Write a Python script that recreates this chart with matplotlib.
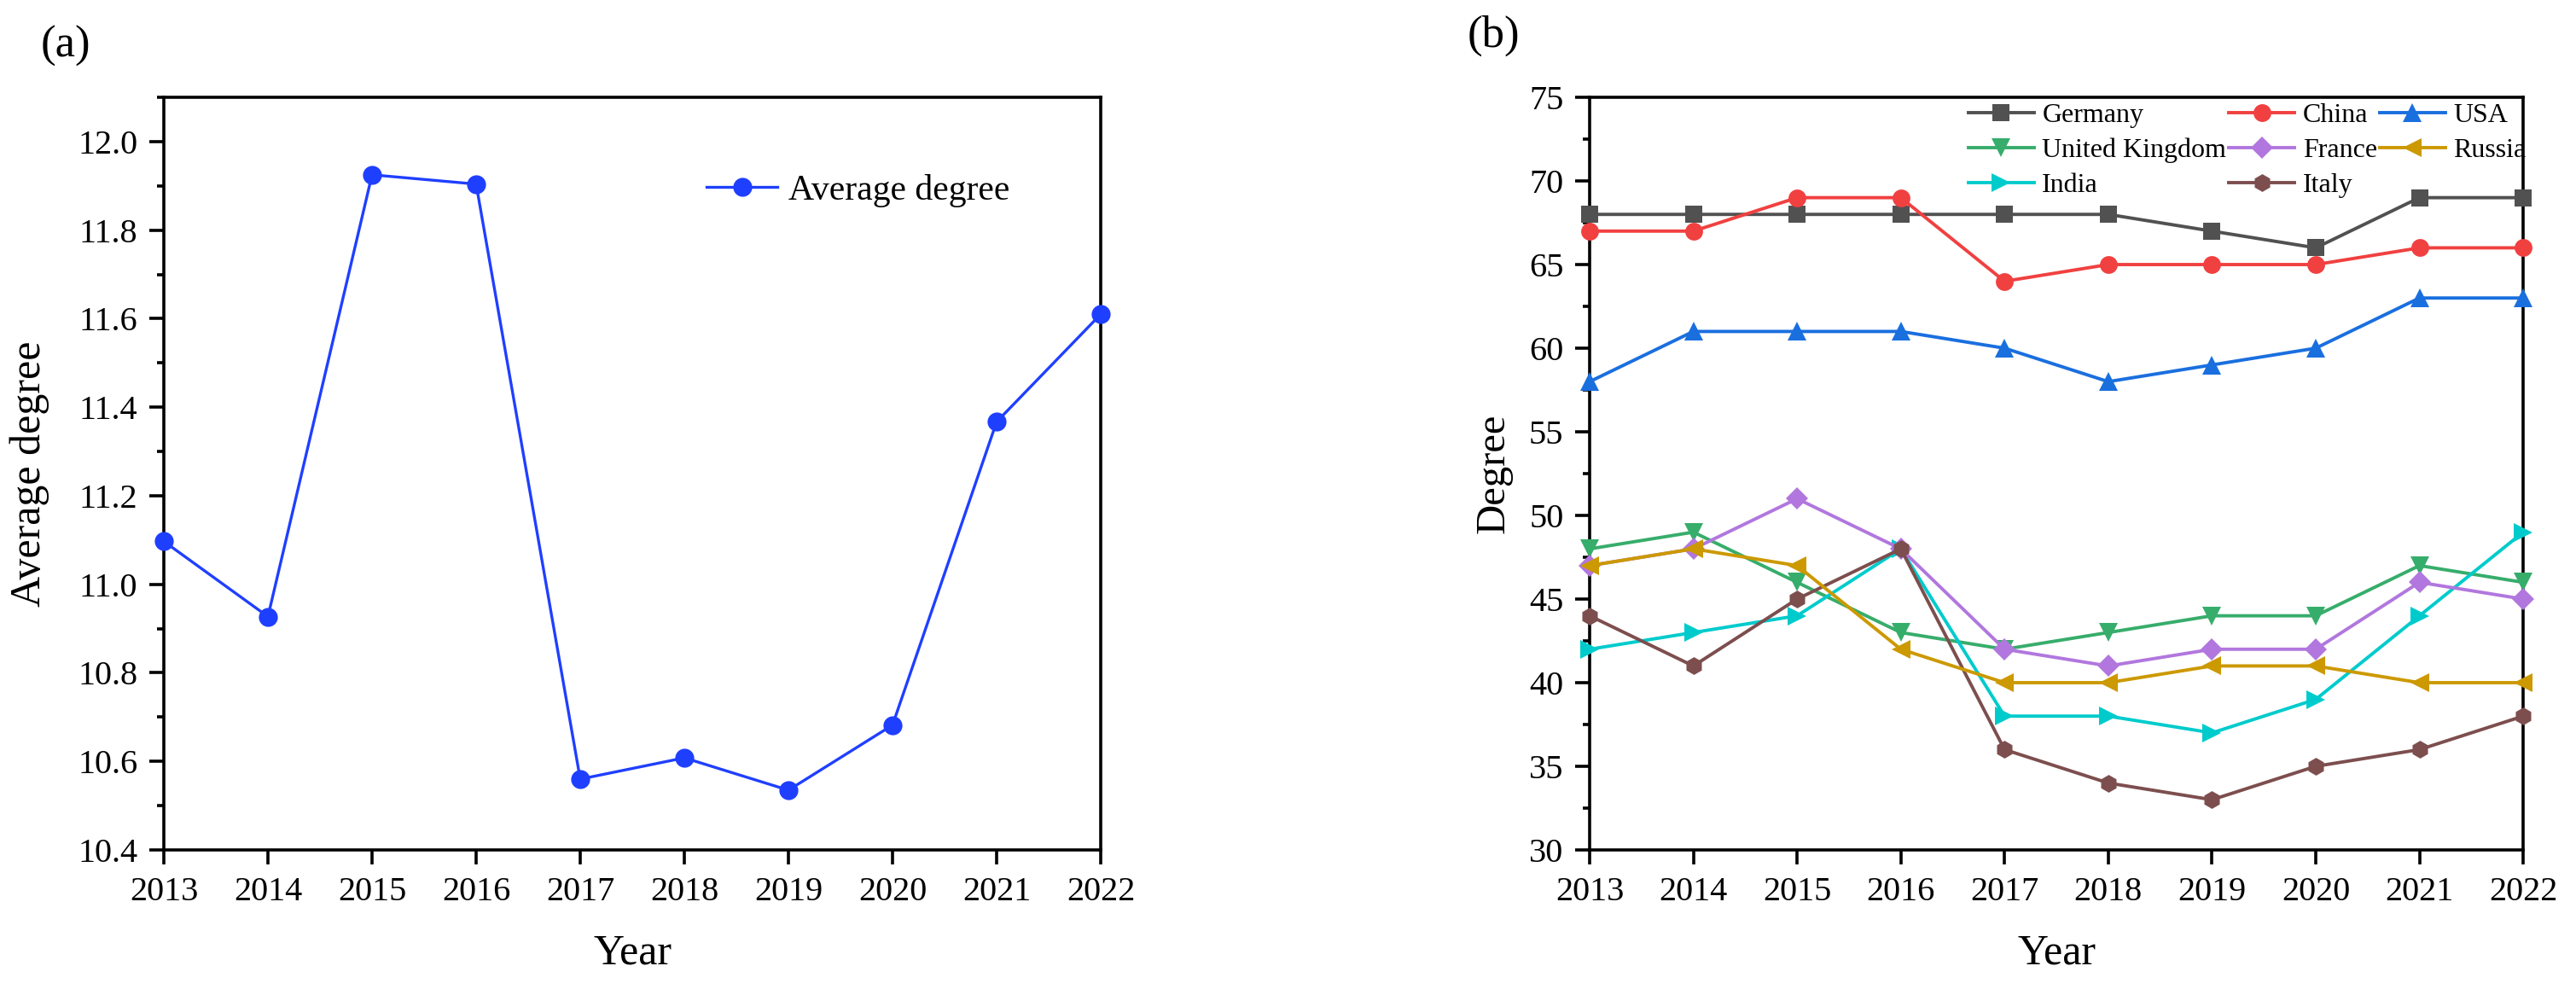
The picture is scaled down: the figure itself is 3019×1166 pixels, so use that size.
import matplotlib as mplt
mplt.use('Agg')
import matplotlib.pyplot as plt
import matplotlib.ticker as plticker

plt.rcParams['font.family'] = ['Liberation Serif', 'DejaVu Serif']

years = [2013, 2014, 2015, 2016, 2017, 2018, 2019, 2020, 2021, 2022]

# panel (a)
avg_degree = [11.097, 10.927, 11.925, 11.904, 10.560, 10.608, 10.535, 10.682, 11.367, 11.610]

# panel (b), degree per country (legend order, filled column by column)
countries = ['Germany', 'United Kingdom', 'India', 'China', 'France', 'Italy', 'USA', 'Russia']
degree = {
    'Germany':        [68, 68, 68, 68, 68, 68, 67, 66, 69, 69],
    'China':          [67, 67, 69, 69, 64, 65, 65, 65, 66, 66],
    'USA':            [58, 61, 61, 61, 60, 58, 59, 60, 63, 63],
    'United Kingdom': [48, 49, 46, 43, 42, 43, 44, 44, 47, 46],
    'France':         [47, 48, 51, 48, 42, 41, 42, 42, 46, 45],
    'Russia':         [47, 48, 47, 42, 40, 40, 41, 41, 40, 40],
    'India':          [42, 43, 44, 48, 38, 38, 37, 39, 44, 49],
    'Italy':          [44, 41, 45, 48, 36, 34, 33, 35, 36, 38],
}
colors = {'Germany': '#515151', 'China': '#F14040', 'USA': '#1A6FDF',
          'United Kingdom': '#37AD6B', 'France': '#B177DE', 'Russia': '#CC9900',
          'India': '#00CBCC', 'Italy': '#7D4E4E'}
markers = {'Germany': 's', 'China': 'o', 'USA': '^', 'United Kingdom': 'v',
           'France': 'D', 'Russia': '<', 'India': '>', 'Italy': 'h'}
msizes = {'Germany': 14, 'China': 15, 'USA': 16, 'United Kingdom': 16,
          'France': 13, 'Russia': 16, 'India': 16, 'Italy': 15}

fig = plt.figure(figsize=(30.19, 11.66), dpi=100)
ax1 = fig.add_axes([0.0636, 0.1458, 0.3637, 0.7564])
ax2 = fig.add_axes([0.6171, 0.1458, 0.3624, 0.7564])


def style(ax):
    for s in ax.spines.values():
        s.set_linewidth(2.6)
        s.set_color('black')
    ax.tick_params(which='both', direction='out', width=2.6, top=False, right=False)
    ax.tick_params(which='major', length=12, pad=10, labelsize=29)
    ax.tick_params(which='minor', length=6)
    ax.set_xticks(years)
    ax.set_xlim(2013, 2022)


# (a)
style(ax1)
ax1.plot(years, avg_degree, color='#1F3FFF', linewidth=2.4, marker='o',
         markersize=16, markeredgewidth=0, label='Average degree', clip_on=False, zorder=3)
ax1.set_ylim(10.4, 12.1)
ax1.yaxis.set_major_locator(plticker.MultipleLocator(0.2))
ax1.yaxis.set_minor_locator(plticker.MultipleLocator(0.1))
ax1.yaxis.set_major_formatter(plticker.FormatStrFormatter('%.1f'))
ax1.set_xlabel('Year', fontsize=36, labelpad=22)
ax1.set_ylabel('Average degree', fontsize=36, labelpad=24)
ax1.legend(loc='center left', bbox_to_anchor=(0.545, 0.876), frameon=False, fontsize=30,
           handlelength=2.0, handletextpad=0.3)

# (b)
style(ax2)
for name in countries:
    ax2.plot(years, degree[name], color=colors[name], linewidth=2.8, marker=markers[name],
             markersize=msizes[name], markeredgewidth=0, label=name, clip_on=False, zorder=3)
ax2.set_ylim(30, 75)
ax2.yaxis.set_major_locator(plticker.MultipleLocator(5))
ax2.yaxis.set_minor_locator(plticker.MultipleLocator(2.5))
ax2.set_xlabel('Year', fontsize=36, labelpad=22)
ax2.set_ylabel('Degree', fontsize=35, labelpad=14)
ax2.legend(loc='upper left', bbox_to_anchor=(0.4, 1.0), ncol=3, frameon=False, fontsize=23,
           handlelength=2.4, handletextpad=0.3, columnspacing=0.1, labelspacing=0.37,
           borderaxespad=0.1, borderpad=0.1)

fig.text(48 / 3019, 1 - 30 / 1166, '(a)', fontsize=38, va='top', ha='left')
fig.text(1720 / 3019, 1 - 18 / 1166, '(b)', fontsize=38, va='top', ha='left')

plt.savefig('out.png', dpi=100)
